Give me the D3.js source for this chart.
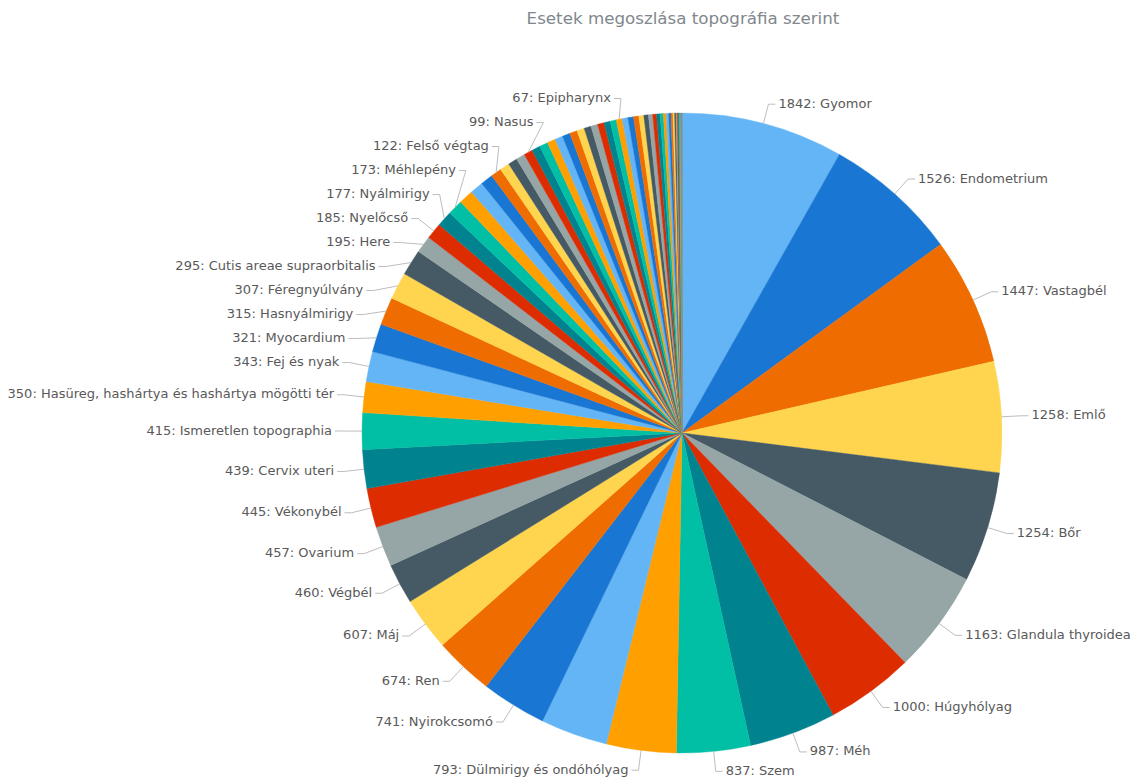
<!DOCTYPE html>
<html>
<head>
<meta charset="utf-8">
<script src="https://cdn.jsdelivr.net/npm/d3@7"></script>
<style>
  body { margin: 0; background: #fff; }
  svg { font-family: "DejaVu Sans", Verdana, sans-serif; }
</style>
</head>
<body>
<div id="chart"></div>
<script>
// adatok (a címke nélküli szeletek neve ismeretlen, ezért üres)
var title = "Esetek megoszlása topográfia szerint";

var categories = [
  "Gyomor", "Endometrium", "Vastagbél", "Emlő", "Bőr", "Glandula thyroidea",
  "Húgyhólyag", "Méh", "Szem", "Dülmirigy és ondóhólyag", "", "Nyirokcsomó",
  "Ren", "Máj", "Végbél", "Ovarium", "Vékonybél", "Cervix uteri",
  "Ismeretlen topographia", "Hasüreg, hashártya és hashártya mögötti tér",
  "Fej és nyak", "Myocardium", "Hasnyálmirigy", "Féregnyúlvány",
  "Cutis areae supraorbitalis", "Here", "Nyelőcső", "Nyálmirigy", "Méhlepény",
  "", "", "", "Felső végtag",
  "", "", "", "Nasus",
  "", "", "", "", "", "", "", "", "", "", "", "", "Epipharynx",
  "", "", "", "", "", "", "", "", "", "", "", "", "", "",
  "", "", "", "", "", "", "", "", "", "", "", ""
];

var values = [
  1842, 1526, 1447, 1258, 1254, 1163,
  1000, 987, 837, 793, 760, 741,
  674, 607, 460, 457, 445, 439,
  415, 350,
  343, 321, 315, 307,
  295, 195, 185, 177, 173,
  165, 150, 140, 122,
  110, 104, 100, 99,
  97, 95, 93, 90, 88, 86, 84, 80, 77, 74, 71, 69, 67,
  66, 64, 60, 56, 52, 48, 44, 40, 36, 32, 28, 25, 22, 19,
  16, 14, 12, 10, 8, 6, 5, 4, 3, 2, 2, 1
];

var palette = ["#64b5f6", "#1976d2", "#ef6c00", "#ffd54f", "#455a64",
               "#96a5a6", "#dd2c00", "#00838f", "#00bfa5", "#ffa000"];

var width = 1135, height = 783;
var cx = 682, cy = 433, radius = 320, labelRadius = 340;

var svg = d3.select("#chart")
    .append("svg")
    .attr("width", width)
    .attr("height", height);

svg.append("text")
    .attr("x", 683)
    .attr("y", 19)
    .attr("text-anchor", "middle")
    .attr("dominant-baseline", "middle")
    .style("font-size", "16.7px")
    .style("fill", "#80878d")
    .text(title);

var data = categories.map(function(c, i) { return {name: c, value: values[i]}; });

var pie = d3.pie().sort(null).value(function(d) { return d.value; });
var arcs = pie(data);
var arc = d3.arc().innerRadius(0).outerRadius(radius);
var color = d3.scaleOrdinal().domain(d3.range(palette.length)).range(palette);

var g = svg.append("g").attr("transform", "translate(" + cx + "," + cy + ")");

g.selectAll("path.slice")
    .data(arcs)
    .enter().append("path")
    .attr("class", "slice")
    .attr("d", arc)
    .attr("fill", function(d, i) { return color(i % palette.length); })
    .attr("stroke", function(d, i) { return color(i % palette.length); })
    .attr("stroke-width", 0.4);

// címkék
var labels = arcs.filter(function(d) { return d.data.name !== ""; }).map(function(d) {
    var a = (d.startAngle + d.endAngle) / 2;
    return {
        a: a,
        side: Math.sin(a) >= 0 ? 1 : -1,
        y: -labelRadius * Math.cos(a),
        text: d.data.value + ": " + d.data.name
    };
});

var lg = g.append("g");
var texts = lg.selectAll("text")
    .data(labels)
    .enter().append("text")
    .style("font-size", "13px")
    .style("fill", "#595959")
    .attr("dominant-baseline", "middle")
    .attr("text-anchor", function(d) { return d.side > 0 ? "start" : "end"; })
    .text(function(d) { return d.text; });

texts.each(function(d) { d.w = this.getComputedTextLength(); });

function xAt(l) {
    var dy = Math.max(-labelRadius, Math.min(labelRadius, l.y));
    return l.side * Math.sqrt(labelRadius * labelRadius - dy * dy);
}
function box(l) {
    var x = xAt(l);
    return l.side > 0 ? [x + 10, x + 10 + l.w] : [x - 10 - l.w, x - 10];
}

// átfedések feloldása
var gap = 24;
for (var it = 0; it < 400; it++) {
    [1, -1].forEach(function(s) {
        var side = labels.filter(function(l) { return l.side === s; })
            .sort(function(p, q) { return p.y - q.y; });
        for (var i = 0; i < side.length - 1; i++) {
            var p = side[i], q = side[i + 1];
            var diff = q.y - p.y;
            if (diff >= gap) continue;
            var bp = box(p), bq = box(q);
            if (bp[1] < bq[0] || bq[1] < bp[0]) continue;
            var shift = (gap - diff) / 2;
            p.y -= shift;
            q.y += shift;
        }
    });
}

labels.forEach(function(l) { l.x = xAt(l); });

lg.selectAll("path.leader")
    .data(labels)
    .enter().append("path")
    .attr("class", "leader")
    .attr("fill", "none")
    .attr("stroke", "#bdbdbd")
    .attr("stroke-width", 1)
    .attr("d", function(l) {
        var sx = radius * Math.sin(l.a), sy = -radius * Math.cos(l.a);
        return "M" + sx + "," + sy + "L" + l.x + "," + l.y + "L" + (l.x + l.side * 7) + "," + l.y;
    });

texts.attr("x", function(l) { return l.x + l.side * 10; })
     .attr("y", function(l) { return l.y; });
</script>
</body>
</html>
